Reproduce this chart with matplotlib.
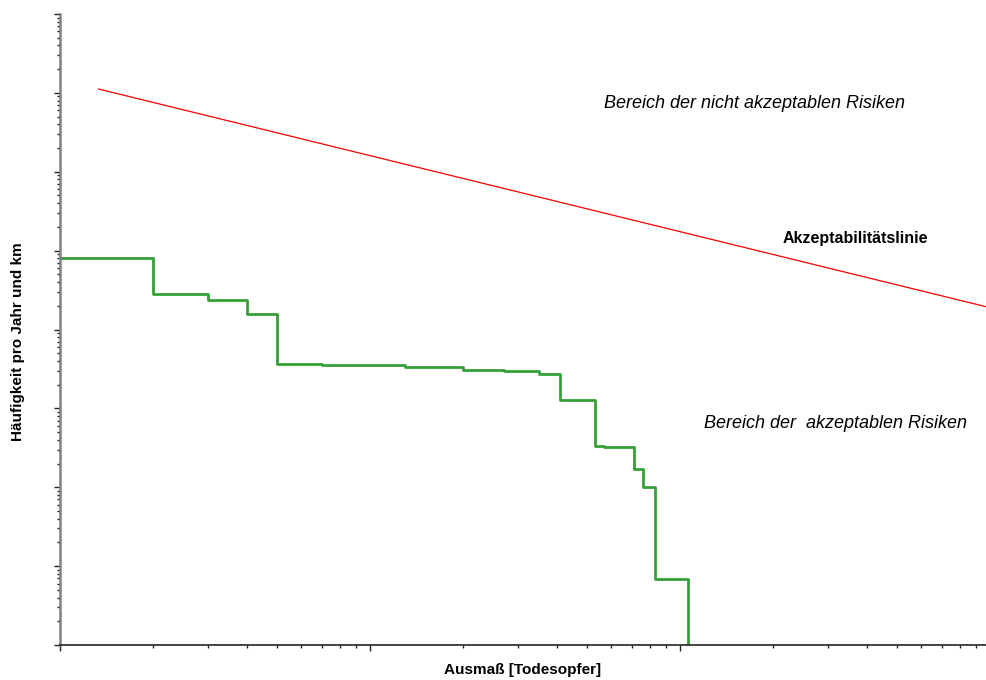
import matplotlib
matplotlib.use("Agg")
import matplotlib.pyplot as plt
from matplotlib.ticker import LogLocator, NullFormatter

plt.rcParams['font.family'] = ['Liberation Sans', 'DejaVu Sans']

# F-N curve (step function): number of fatalities N, frequency per year and km F
N = [1, 2, 3, 4, 5, 7, 13, 20, 27, 35, 41, 53, 57, 71, 76, 83, 106]
F = [8.0e-6, 2.8e-6, 2.4e-6, 1.56e-6, 3.63e-7, 3.56e-7, 3.33e-7, 3.08e-7,
     2.96e-7, 2.76e-7, 1.27e-7, 3.32e-8, 3.22e-8, 1.68e-8, 1.01e-8, 6.9e-10, 1e-10]

# acceptability line
line_N = [1.33, 1000]
line_F = [1.12e-3, 1.89e-6]

x_lim = (1, 970)
y_lim = (1e-10, 1e-2)

fig = plt.figure(figsize=(9.86, 6.80), dpi=100)
ax = fig.add_axes([60/986, 1 - 645/680, 926/986, (645 - 14)/680])

ax.plot(line_N, line_F, color='#ff0000', lw=0.9)
ax.step(N, F, where='post', color='#35a035', lw=2.0)

ax.set_xscale('log')
ax.set_yscale('log')
ax.set_xlim(*x_lim)
ax.set_ylim(*y_lim)

ax.yaxis.set_major_locator(LogLocator(base=10, numticks=20))
ax.yaxis.set_minor_locator(LogLocator(base=10, subs=range(2, 10), numticks=100))
ax.xaxis.set_major_locator(LogLocator(base=10, numticks=20))
ax.xaxis.set_minor_locator(LogLocator(base=10, subs=range(2, 10), numticks=100))
ax.xaxis.set_major_formatter(NullFormatter())
ax.xaxis.set_minor_formatter(NullFormatter())
ax.yaxis.set_major_formatter(NullFormatter())
ax.yaxis.set_minor_formatter(NullFormatter())
ax.tick_params(which='major', direction='out', length=4.5, width=1, color='#222222')
ax.tick_params(which='minor', direction='out', length=2.5, width=1, color='#222222')

ax.spines['top'].set_visible(False)
ax.spines['right'].set_visible(False)
ax.spines['left'].set_color('#808080')
ax.spines['left'].set_linewidth(1.8)
ax.spines['bottom'].set_color('#222222')
ax.spines['bottom'].set_linewidth(1.2)

fig.text(523/986, 1 - 670/680, 'Ausmaß [Todesopfer]', fontsize=11,
         fontweight='bold', ha='center', va='center')
fig.text(18/986, 1 - 342/680, 'Häufigkeit pro Jahr und km', fontsize=11,
         fontweight='bold', ha='center', va='center', rotation=90)

fig.text(755/986, 1 - 103/680, 'Bereich der nicht akzeptablen Risiken',
         fontsize=13, style='italic', ha='center', va='center')
fig.text(855/986, 1 - 238/680, 'Akzeptabilitätslinie',
         fontsize=11.5, fontweight='bold', ha='center', va='center')
fig.text(835/986, 1 - 423/680, 'Bereich der  akzeptablen Risiken',
         fontsize=13, style='italic', ha='center', va='center')

fig.savefig('out.png', dpi=100)
